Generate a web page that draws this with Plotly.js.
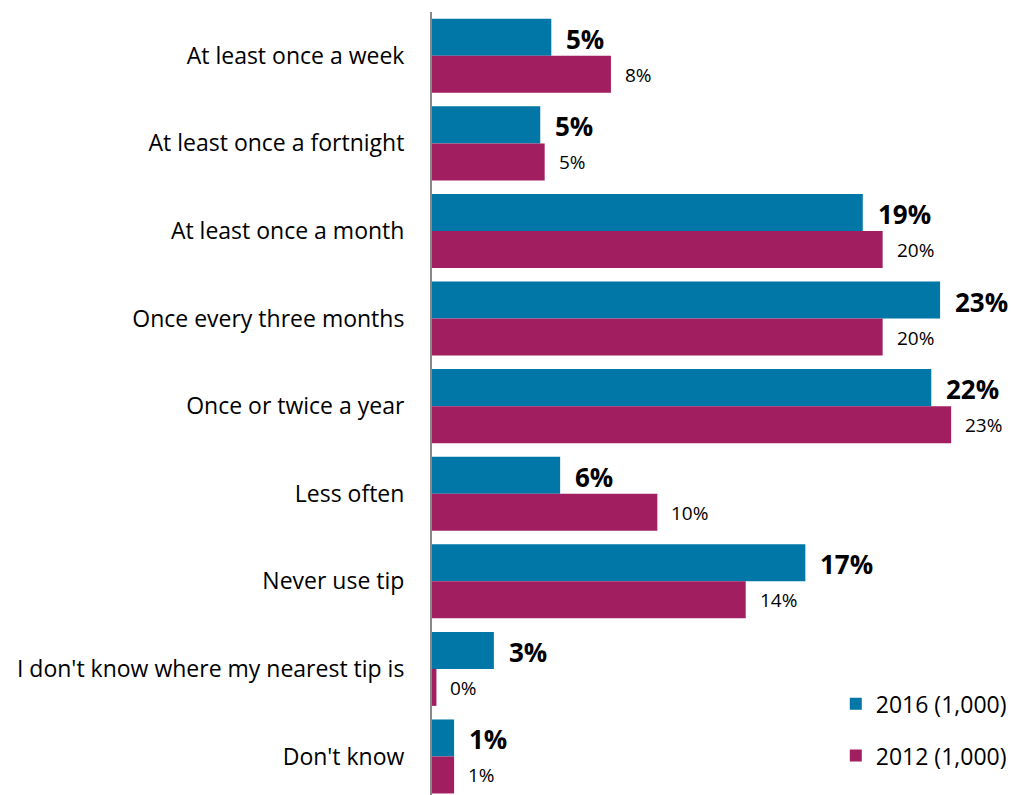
<!DOCTYPE html>
<html>
<head>
<meta charset="utf-8">
<script src="https://cdn.plot.ly/plotly-3.0.1.min.js"></script>
<style>html,body{margin:0;padding:0;background:#fff;overflow:hidden}</style>
</head>
<body>
<div id="chart" style="width:1013px;height:795px"></div>
<script>
const categories = [
  "At least once a week",
  "At least once a fortnight",
  "At least once a month",
  "Once every three months",
  "Once or twice a year",
  "Less often",
  "Never use tip",
  "I don't know where my nearest tip is",
  "Don't know"
];
const values2016 = [5.4, 4.9, 19.5, 23.0, 22.6, 5.8, 16.9, 2.8, 1.0];
const values2012 = [8.1, 5.1, 20.4, 20.4, 23.5, 10.2, 14.2, 0.2, 1.0];
const labels2016 = ["5%", "5%", "19%", "23%", "22%", "6%", "17%", "3%", "1%"];
const labels2012 = ["8%", "5%", "20%", "20%", "23%", "10%", "14%", "0%", "1%"];
const seriesNames = ["2016 (1,000)", "2012 (1,000)"];

const BLUE = "#0077A7";
const MAG = "#A11F60";
const FONT = "'Open Sans', sans-serif";

const traces = [
  {type: "bar", orientation: "h", name: seriesNames[0], x: values2016, y: categories,
   marker: {color: BLUE}, legendgroup: "a", hoverinfo: "none"},
  {type: "bar", orientation: "h", name: seriesNames[1], x: values2012, y: categories,
   marker: {color: MAG}, legendgroup: "b", hoverinfo: "none"}
];

const annotations = [];
categories.forEach((c, i) => {
  annotations.push({x: values2016[i], y: c, text: labels2016[i], showarrow: false,
    xanchor: "left", xshift: 13, yshift: 17, font: {family: FONT, size: 26, color: "#000", weight: "bold"}});
  annotations.push({x: values2012[i], y: c, text: labels2012[i], showarrow: false,
    xanchor: "left", xshift: 12, yshift: -19, font: {family: FONT, size: 19, color: "#000"}});
});

const layout = {
  width: 1013, height: 795,
  margin: {l: 432, r: 0, t: 12, b: 0, pad: 0},
  paper_bgcolor: "#fff", plot_bgcolor: "#fff",
  barmode: "group", bargap: 0.155, bargroupgap: 0,
  font: {family: FONT, color: "#000"},
  xaxis: {range: [0, 26.3], visible: false, fixedrange: true},
  yaxis: {range: [8.44, -0.5], showline: true, linecolor: "#888", linewidth: 2,
    ticks: "outside", ticklen: 21, tickcolor: "rgba(0,0,0,0)", showgrid: false, zeroline: false,
    tickfont: {family: FONT, size: 23, color: "#000"}},
  showlegend: true,
  legend: {x: 0.695, xanchor: "left", y: 0.144, yanchor: "top", traceorder: "grouped",
    tracegroupgap: 19, font: {family: FONT, size: 23, color: "#000"}, bgcolor: "rgba(0,0,0,0)"},
  annotations: annotations
};

Plotly.newPlot("chart", traces, layout, {displayModeBar: false, staticPlot: true});
</script>
</body>
</html>
